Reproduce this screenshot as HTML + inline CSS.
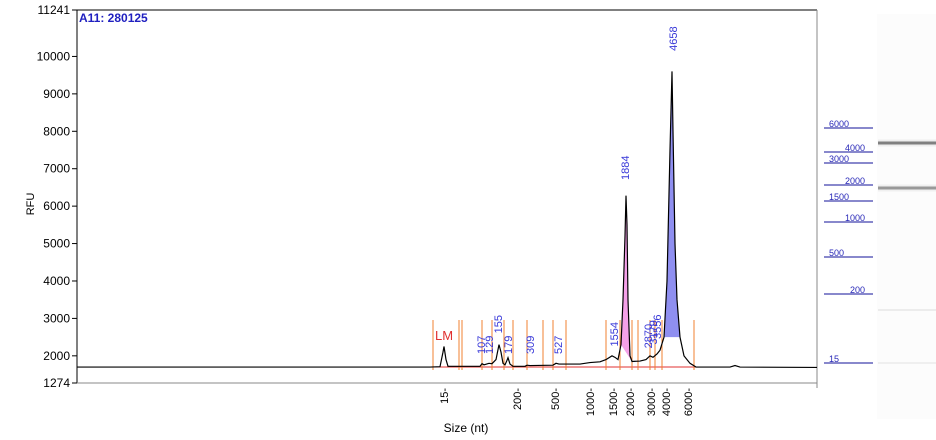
<!DOCTYPE html>
<html><head><meta charset="utf-8"><style>
body{margin:0;background:#fff;width:936px;height:440px;overflow:hidden;font-family:"Liberation Sans",sans-serif}
svg{display:block}
</style></head><body>
<svg id="c" width="936" height="440" xmlns="http://www.w3.org/2000/svg">
<text x="79" y="22" font-size="12" font-weight="bold" fill="#2020c0">A11: 280125</text>
<text transform="translate(34,204) rotate(-90)" font-size="11" text-anchor="middle" fill="#000">RFU</text>
<text x="466" y="432" font-size="12" text-anchor="middle" fill="#000">Size (nt)</text>
<rect x="877" y="14" width="59" height="405" fill="#fcfcfc"/>
</svg>
<script>
// ---- data ----
const yTicks=[11241,10000,9000,8000,7000,6000,5000,4000,3000,2000,1274];
const traceTime=[0,353,363,366,367,369,371,403,405,407,412,415,419,422,424,426,428,430,431,433,436,448,450,453,476,479,482,503,513,523,529,535,538,541,544,546,548,549,550,551,553,555,563,569,573,576,580,583,587,590,593,595,596,598,600,603,607,613,619,653,658,663,740];
const traceRFU=[1700,1700,1710,2100,2250,1900,1720,1720,1790,1760,1800,1790,1900,2300,2100,1800,1760,1880,1950,1780,1720,1720,1750,1740,1750,1800,1780,1780,1820,1840,1900,2000,1960,1900,2300,3500,5200,6280,5500,3500,2000,1850,1860,1900,2000,1960,2050,2150,2500,4000,7500,9600,8000,5000,3500,2500,2000,1800,1700,1700,1740,1700,1690];
const ladderSize=[15,200,500,1000,1500,2000,3000,4000,6000];
const ladderTime=[367,440,478,513,536,553,574,589,611];
const markerTimes=[356,382,385,405,415,427,436,450,466,476,489,529,543,555,561,573,578,585,617];
const peakLabels=["107","129","155","179","309","527","1554","1884","2870","3179","3556","4658"];
const peakTimes=[404,412,421,431,453,481,537,548,571,576,580,596];
const peakLabelRFU=[2050,2050,2600,2050,2050,2050,2250,6700,2200,2300,2450,10150];
const pinkRange=[543,555];
const blueRange=[584,603];
const gelSizes=[6000,4000,3000,2000,1500,1000,500,200,15];
const gelY=[128,152,163,185,201,222,257,294,363];
// ---- axes ----
const X0=77,X1=817,Y0=10,Y1=383;
const ymin=1274,ymax=11241;
const sx=t=>X0+t;
const sy=v=>Y1-(v-ymin)/(ymax-ymin)*(Y1-Y0);
const svg=document.getElementById('c');
const NS='http://www.w3.org/2000/svg';
function mk(tag,at){const e=document.createElementNS(NS,tag);for(const k in at)e.setAttribute(k,at[k]);svg.appendChild(e);return e;}
let f=mk('path',{d:`M${X0} ${Y1}V${Y0}H${X1}`,fill:'none',stroke:'#000','stroke-width':1});


let fr=mk('line',{x1:X1,y1:Y0,x2:X1,y2:Y1+5,stroke:'#888'});


let fb=mk('line',{x1:X0,y1:Y1,x2:X1,y2:Y1,stroke:'#888'});


yTicks.forEach(v=>{const y=sy(v);
 let t=mk('line',{x1:X0-5,y1:y,x2:X0,y2:y,stroke:'#000'});
 
 
 let l=mk('text',{x:X0-7,y:y+4,'font-size':12,'text-anchor':'end',fill:'#000'});l.textContent=v;
 
 });
function timeOfSize(s){for(let i=0;i<ladderSize.length-1;i++){if(s<=ladderSize[i+1]){const a=Math.log(ladderSize[i]),b=Math.log(ladderSize[i+1]);return ladderTime[i]+(Math.log(s)-a)/(b-a)*(ladderTime[i+1]-ladderTime[i]);}}return ladderTime[ladderTime.length-1];}
ladderSize.forEach(s=>{const x=sx(timeOfSize(s));
 let l=mk('text',{transform:`translate(${x+4},${Y1+5}) rotate(-90)`,'font-size':11,'text-anchor':'end',fill:'#000'});l.textContent=s+'-';
 
 });
let bl=mk('line',{x1:sx(353),y1:sy(1700),x2:sx(620),y2:sy(1700),stroke:'#e03030'});


markerTimes.forEach(t=>{let m=mk('line',{x1:sx(t),y1:320,x2:sx(t),y2:370,stroke:'#f08030'});
 
 });
function fillRange(r,color,name){const pts=[];for(let i=0;i<traceTime.length;i++){if(traceTime[i]>=r[0]&&traceTime[i]<=r[1])pts.push([traceTime[i],traceRFU[i]]);}
 const a=pts[0],b=pts[pts.length-1];
 let d='M'+pts.map(p=>sx(p[0])+' '+sy(p[1])).join('L')+`L${sx(b[0])} ${sy(b[1])}L${sx(a[0])} ${sy(a[1])}Z`;
 let p=mk('path',{d:d,fill:color,stroke:'none'});
 
 }
fillRange(pinkRange,'#f4a0e8','peak-1884-fill');
fillRange(blueRange,'#8f8ff0','peak-4658-fill');
let tr=mk('path',{d:'M'+traceTime.map((t,i)=>sx(t)+' '+sy(traceRFU[i])).join('L'),fill:'none',stroke:'#000','stroke-width':1.2});


let lm=mk('text',{x:435,y:340,'font-size':13,fill:'#e03030'});lm.textContent='LM';


peakLabels.forEach((s,i)=>{const x=sx(peakTimes[i]),y=sy(peakLabelRFU[i]);
 let l=mk('text',{transform:`translate(${x+4},${y}) rotate(-90)`,'font-size':11,fill:'#3838d8'});l.textContent=s;
 
 });
[[143,'#eeeeee',7],[143,'#808080',3],[188,'#f0f0f0',7],[188,'#999',3],[310,'#ececec',2],[363,'#efefef',2]].forEach(b=>{let r=mk('rect',{x:878,y:b[0]-b[2]/2,width:58,height:b[2],fill:b[1]});
 
 });
gelSizes.forEach((s,i)=>{const y=gelY[i];
 let l=mk('line',{x1:824,y1:y,x2:873,y2:y,stroke:'#10109a'});
 
 
 const right=(i%2===1&&s!==15);
 let t=mk('text',{x:right?865:829,y:y-1,'font-size':9,fill:'#2828b8','text-anchor':right?'end':'start'});t.textContent=s;
 
 });
</script>
</body></html>
